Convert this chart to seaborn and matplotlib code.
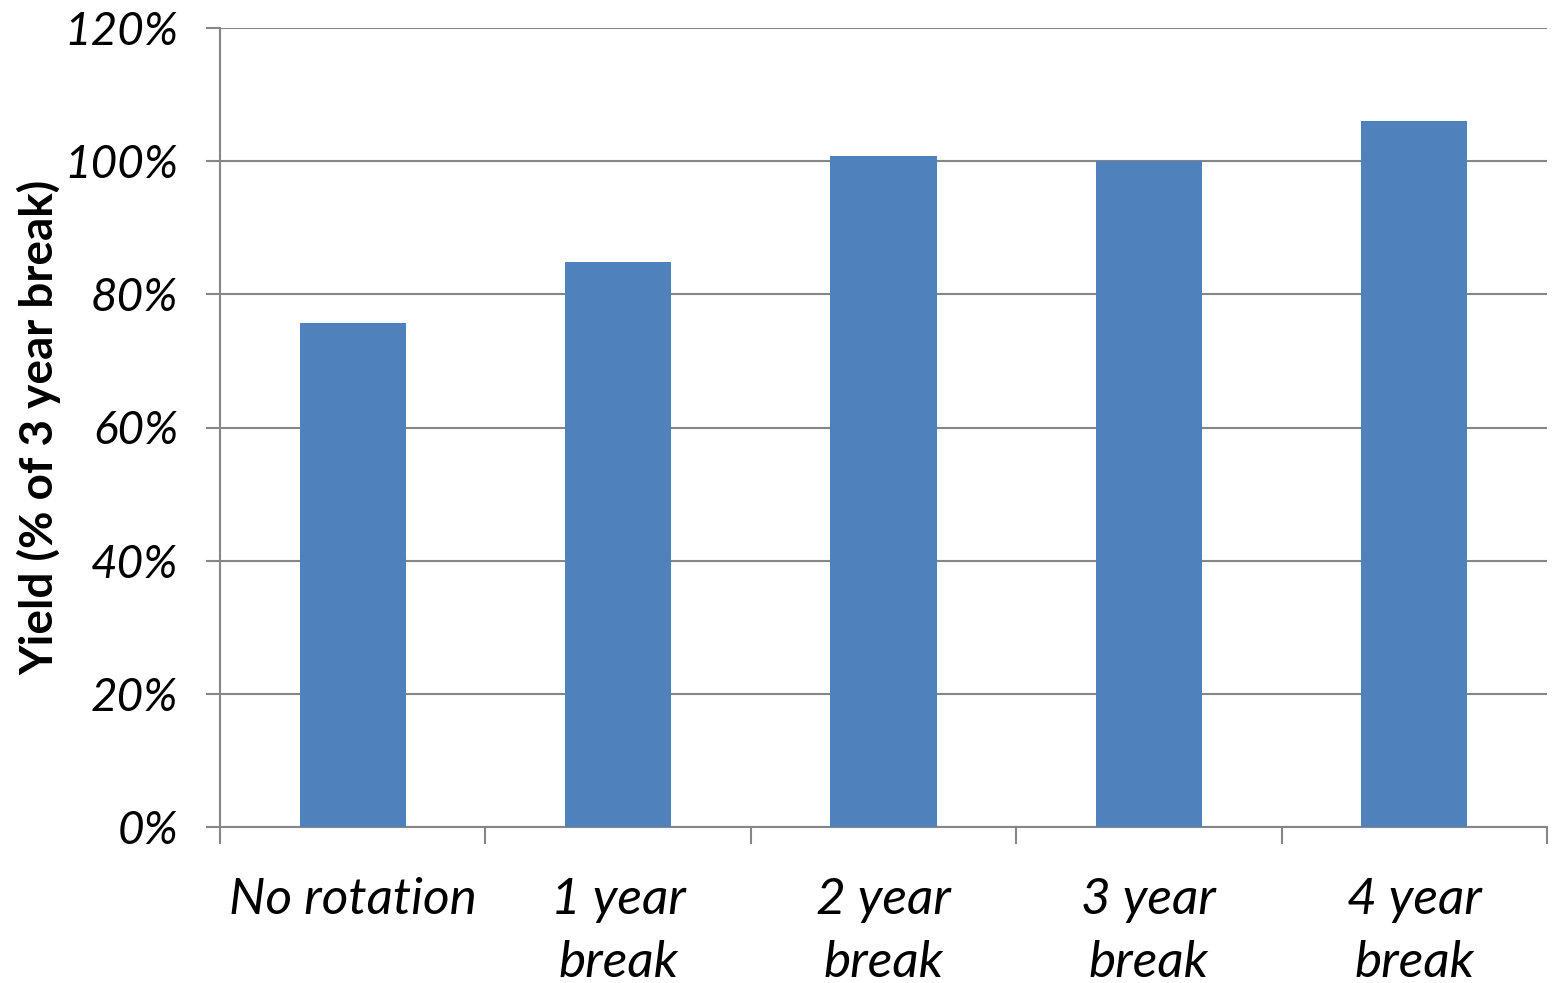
import matplotlib
matplotlib.use("Agg")
import matplotlib.pyplot as plt
import matplotlib.ticker as mticker
import seaborn as sns
import pandas as pd

# data
categories = ['No rotation', '1 year\nbreak', '2 year\nbreak', '3 year\nbreak', '4 year\nbreak']
yield_pct = [75.7, 84.8, 100.8, 100.0, 106.0]
y_ticks = [0, 20, 40, 60, 80, 100, 120]

df = pd.DataFrame({'Rotation': categories, 'Yield': yield_pct})

sns.set_style('white')
plt.rcParams['font.family'] = ['Lato', 'DejaVu Sans']
plt.rcParams['text.color'] = 'black'
plt.rcParams['xtick.color'] = 'black'
plt.rcParams['ytick.color'] = 'black'
plt.rcParams['axes.labelcolor'] = 'black'

grid_col = '#868686'

fig = plt.figure(figsize=(15.54, 9.83), dpi=100)
ax = fig.add_axes([220 / 1554, 1 - 827 / 983, (1547 - 220) / 1554, (827 - 28) / 983])

sns.barplot(data=df, x='Rotation', y='Yield', color='#4F81BD', width=0.4,
            saturation=1, linewidth=0, edgecolor='none', ax=ax, zorder=3)

ax.set_xlim(-0.5, len(categories) - 0.5)
ax.set_ylim(0, 120)
ax.set_yticks(y_ticks)
ax.yaxis.set_major_formatter(mticker.FuncFormatter(lambda v, p: f'{v:.0f}%'))
ax.grid(axis='y', color=grid_col, linewidth=1.5, zorder=0)
ax.set_axisbelow(True)

for s in ['top', 'right']:
    ax.spines[s].set_visible(False)
for s in ['left', 'bottom']:
    ax.spines[s].set_color(grid_col)
    ax.spines[s].set_linewidth(1.5)

# category boundary ticks on the x axis
ax.set_xticks([i - 0.5 for i in range(len(categories) + 1)], minor=True)
ax.tick_params(axis='x', which='minor', bottom=True, length=12, width=1.5,
               color=grid_col, direction='out')
ax.tick_params(axis='x', which='major', bottom=True, length=0, pad=36)
ax.tick_params(axis='y', left=True, length=10, width=1.5, color=grid_col,
               direction='out', pad=20)

for lbl in ax.get_xticklabels():
    lbl.set_fontsize(37)
    lbl.set_fontstyle('italic')
    lbl.set_verticalalignment('top')
    lbl.set_linespacing(1.45)
for lbl in ax.get_yticklabels():
    lbl.set_fontsize(33)
    lbl.set_fontstyle('italic')

ax.set_xlabel('')
ax.set_ylabel('Yield (% of 3 year break)', fontsize=33, fontweight='bold', labelpad=2)

fig.savefig('out.png', dpi=100)
